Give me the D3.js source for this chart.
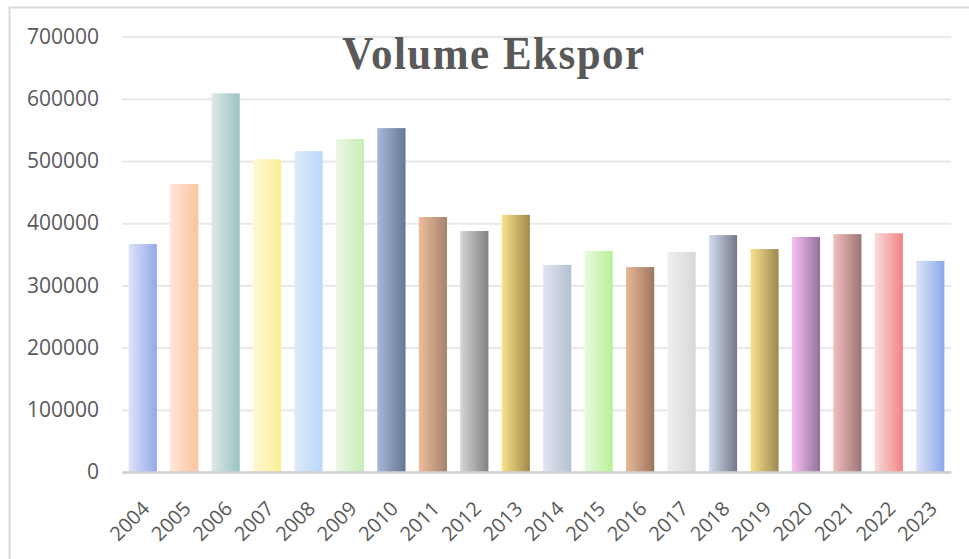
<!DOCTYPE html>
<html><head><meta charset="utf-8">
<script src="https://cdn.jsdelivr.net/npm/d3@7"></script>
<style>body{margin:0;background:#fff}svg{display:block}</style>
</head><body>
<svg id="c" width="969" height="559"></svg>
<script>
const years = ["2004","2005","2006","2007","2008","2009","2010","2011","2012","2013","2014","2015","2016","2017","2018","2019","2020","2021","2022","2023"];
const volumes = [366500,463000,609000,503000,516000,535500,553000,410000,387500,413500,333000,355500,329500,354000,381000,358500,378000,382500,384000,339500];
const yTicks = [0,100000,200000,300000,400000,500000,600000,700000];
const colorsLeft  = ["#dee3f8","#ffe6da","#dde9e7","#fff7d2","#dceafc","#ecf7e7","#a6b7da","#efbd9b","#d6d6d6","#fbe38c","#e0e5ef","#e8fadf","#eab797","#efefef","#d4ddef","#fbe48f","#f9c2f6","#f3bebe","#f8dcdc","#dde4f8"];
const colorsRight = ["#91a8e8","#fdc39e","#99c3c1","#fdee98","#bad8f7","#c7edb6","#677792","#a5836d","#818181","#9f894a","#b5c1d5","#b9f097","#9a7660","#d8d8d8","#717887","#9b8851","#94709a","#9b7574","#f28383","#8ca8e9"];
const title = "Volume Ekspor";

const svg = d3.select("#c");
const m = {l:122, r:951, t:36.7, b:472};
const x = d3.scaleBand().domain(years).range([m.l, m.r]).paddingInner(0.32).paddingOuter(0.16);
const y = d3.scaleLinear().domain([0,700000]).range([m.b, m.t]);

// border
svg.append("path").attr("d","M9.5,559 L9.5,7.5 L969,7.5").attr("fill","none").attr("stroke","#d9d9d9").attr("stroke-width",2);

const defs = svg.append("defs");
years.forEach((yr,i)=>{
  const g = defs.append("linearGradient").attr("id","g"+i).attr("x1","0").attr("x2","1").attr("y1","0").attr("y2","0");
  g.append("stop").attr("offset","0").attr("stop-color",colorsLeft[i]);
  g.append("stop").attr("offset","1").attr("stop-color",colorsRight[i]);
});

// gridlines
const yAxis = d3.axisLeft(y).tickValues(yTicks).tickSize(-(m.r-m.l)).tickPadding(23).tickFormat(d3.format("d"));
const ga = svg.append("g").attr("transform",`translate(${m.l},0)`).call(yAxis);
ga.select(".domain").remove();
ga.selectAll(".tick line").attr("stroke","#e9e9e9").attr("stroke-width",2.2);
ga.selectAll(".tick text").attr("fill","#595959").attr("font-family","Open Sans, Liberation Sans, sans-serif").attr("font-size","21px");

// title
svg.append("text").attr("x",494).attr("y",69).attr("text-anchor","middle")
  .attr("font-family","Liberation Serif, Times New Roman, serif").attr("font-weight","bold")
  .attr("font-size","43px").attr("fill","#595959").attr("letter-spacing","1.5px")
  .attr("transform","translate(0,69) scale(1,1.1) translate(0,-69)").text(title);

// bars
svg.append("g").selectAll("rect").data(years).join("rect")
  .attr("x",d=>x(d)).attr("width",x.bandwidth())
  .attr("y",(d,i)=>y(volumes[i])).attr("height",(d,i)=>y(0)-y(volumes[i]))
  .attr("fill",(d,i)=>`url(#g${i})`);

// x axis
const xa = svg.append("g").attr("transform",`translate(0,${m.b})`).call(d3.axisBottom(x).tickSize(0).tickPadding(0));
xa.select(".domain").attr("stroke","#d0d0d0").attr("stroke-width",2.5);
xa.selectAll(".tick text").attr("fill","#595959").attr("font-family","Open Sans, Liberation Sans, sans-serif").attr("font-size","20px")
  .attr("text-anchor","end").attr("dy",null).attr("transform","translate(8,38) rotate(-45)");
</script>
</body></html>
